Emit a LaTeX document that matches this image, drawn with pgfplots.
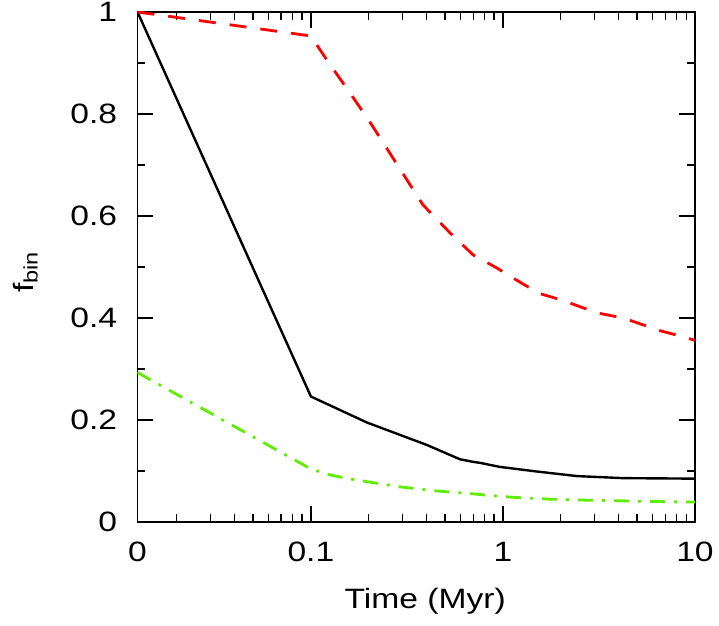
\documentclass[border=0pt]{standalone}
\usepackage{fontspec}
\setmainfont{Liberation Sans}[FakeStretch=1.2]
\usepackage{pgfplots}
\pgfplotsset{compat=1.18}
\definecolor{lgreen}{RGB}{95,238,0}
\begin{document}
\fontsize{14}{17}\selectfont
\begin{tikzpicture}
\begin{axis}[
  name=ax,
  scale only axis,
  width=278.75pt, height=255pt,
  xmode=log,
  xmin=0.0125, xmax=10,
  ymin=0, ymax=1,
  xtick={0.0125,0.1,1,10},
  xticklabels={0,0.1,1,10},
  minor xtick={0.02,0.03,0.04,0.05,0.06,0.07,0.08,0.09,0.2,0.3,0.4,0.5,0.6,0.7,0.8,0.9,2,3,4,5,6,7,8,9},
  ytick={0,0.2,0.4,0.6,0.8,1},
  yticklabels={0,0.2,0.4,0.6,0.8,1},
  minor ytick={0.1,0.3,0.5,0.7,0.9},
  tick align=inside,
  major tick length=8pt,
  minor tick length=4pt,
  axis line style={line width=0.9pt},
  every tick/.style={black, line width=0.7pt},
  yticklabel style={inner sep=0pt, xshift=-10pt, font=\fontsize{14}{17}\selectfont},
  xticklabel style={inner sep=0pt, yshift=-10pt, font=\fontsize{14}{17}\selectfont},
  xlabel={Time (Myr)},
  ylabel={f\textsubscript{bin}},
  every axis x label/.style={at={(axis description cs:0.516,-0.1549)}, anchor=center, font=\fontsize{14}{17}\selectfont},
  every axis y label/.style={at={(axis description cs:-0.2009,0.49)}, anchor=center, rotate=90, font=\fontsize{14}{17}\selectfont},
  clip=true,
]
\addplot[black, line width=1.2pt] coordinates {
(0.0125,1.000) (0.1,0.246) (0.196,0.195) (0.402,0.151) (0.597,0.123)
(0.698,0.118) (0.759,0.116) (0.965,0.108) (1.5,0.099) (2.43,0.090)
(4.22,0.086) (10,0.085)
};
\addplot[red, line width=1.4pt, dash pattern=on 8.5pt off 7pt] coordinates {
(0.0125,1.000) (0.1,0.953) (0.121,0.906) (0.160,0.841) (0.203,0.784)
(0.252,0.729) (0.316,0.671) (0.383,0.622) (0.53,0.567) (0.698,0.524)
(0.93,0.498) (1.087,0.482) (1.38,0.459) (1.52,0.449) (2.03,0.435)
(3.09,0.410) (4.22,0.400) (5.83,0.382) (6.6,0.375) (9.1,0.361) (10,0.356)
};
\addplot[lgreen, line width=1.4pt, dash pattern=on 7.5pt off 4.5pt on 1.5pt off 4.5pt] coordinates {
(0.0125,0.293) (0.1,0.104) (0.127,0.092) (0.153,0.0857) (0.196,0.079)
(0.291,0.069) (0.432,0.0614) (0.649,0.0563) (0.855,0.052) (1.13,0.0484)
(1.69,0.045) (2.5,0.0431) (3.74,0.0418) (5.6,0.0406) (8.55,0.0392) (10,0.039)
};
\end{axis}
\pgfresetboundingbox
\path[use as bounding box] ([xshift=-68.75pt,yshift=-52pt]ax.south west) rectangle ([xshift=12pt,yshift=6pt]ax.north east);
\end{tikzpicture}
\end{document}
